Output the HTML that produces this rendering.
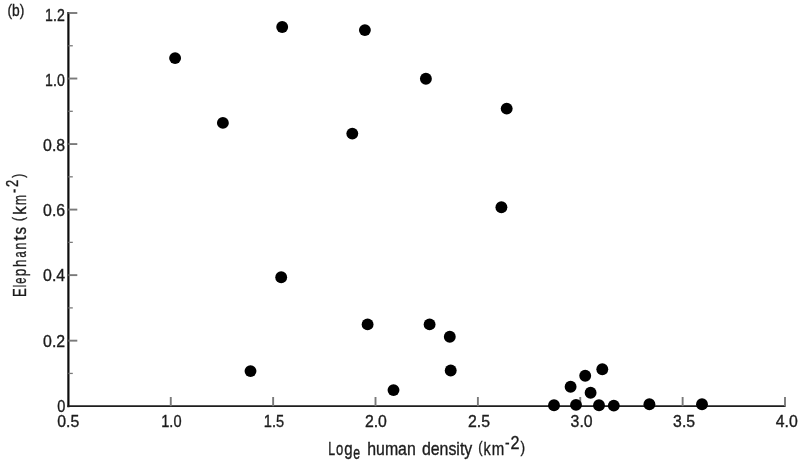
<!DOCTYPE html>
<html><head><meta charset="utf-8"><title>chart</title>
<style>
html,body{margin:0;padding:0;background:#fff;}
body{width:800px;height:465px;overflow:hidden;font-family:"Liberation Sans",sans-serif;}
svg{display:block;filter:blur(0.65px);}
text{font-family:"Liberation Sans",sans-serif;fill:#1c1c1c;stroke:#1c1c1c;stroke-width:0.35px;}
</style></head><body>
<svg width="800" height="465" viewBox="0 0 800 465">
<rect width="800" height="465" fill="#fff"/>

<g stroke="#0c0c0c" fill="none">
<path d="M68.4 12.0 V407.2" stroke-width="2.2"/>
<path d="M67.4 406.2 H785.6" stroke-width="1.8" stroke="#1e1e1e"/>
</g><g stroke="#7a7a7a" fill="none">
<path d="M68.4 373.43 H72.8" stroke-width="1.3"/>
<path d="M68.4 340.67 H77.3" stroke-width="1.9"/>
<path d="M68.4 307.90 H72.8" stroke-width="1.3"/>
<path d="M68.4 275.13 H77.3" stroke-width="1.9"/>
<path d="M68.4 242.37 H72.8" stroke-width="1.3"/>
<path d="M68.4 209.60 H77.3" stroke-width="1.9"/>
<path d="M68.4 176.83 H72.8" stroke-width="1.3"/>
<path d="M68.4 144.07 H77.3" stroke-width="1.9"/>
<path d="M68.4 111.30 H72.8" stroke-width="1.3"/>
<path d="M68.4 78.53 H77.3" stroke-width="1.9"/>
<path d="M68.4 45.77 H72.8" stroke-width="1.3"/>
<path d="M68.4 13.00 H77.3" stroke-width="1.9"/>
<path d="M170.77 406.2 V397.0" stroke-width="1.9"/>
<path d="M273.14 406.2 V397.0" stroke-width="1.9"/>
<path d="M375.51 406.2 V397.0" stroke-width="1.9"/>
<path d="M477.89 406.2 V397.0" stroke-width="1.9"/>
<path d="M580.26 406.2 V397.0" stroke-width="1.9"/>
<path d="M682.63 406.2 V397.0" stroke-width="1.9"/>
<path d="M785.00 406.2 V397.0" stroke-width="1.9"/>
</g>
<text transform="translate(57.20 412.10) scale(0.8571 1)" font-size="17.0">0</text>
<text transform="translate(43.10 346.60) scale(0.9345 1)" font-size="17.0">0.2</text>
<text transform="translate(43.10 281.35) scale(0.9345 1)" font-size="17.0">0.4</text>
<text transform="translate(43.10 216.20) scale(0.9345 1)" font-size="17.0">0.6</text>
<text transform="translate(43.10 151.40) scale(0.9345 1)" font-size="17.0">0.8</text>
<text transform="translate(45.10 86.20) scale(0.8330 1)" font-size="17.0">1.0</text>
<text transform="translate(45.10 21.00) scale(0.8330 1)" font-size="17.0">1.2</text>
<text transform="translate(57.20 427.40) scale(0.9713 1)" font-size="16.3">0.5</text>
<text transform="translate(161.25 427.40) scale(0.8962 1)" font-size="16.3">1.0</text>
<text transform="translate(263.85 427.40) scale(0.8962 1)" font-size="16.3">1.5</text>
<text transform="translate(364.90 427.40) scale(0.9713 1)" font-size="16.3">2.0</text>
<text transform="translate(468.00 427.40) scale(0.9713 1)" font-size="16.3">2.5</text>
<text transform="translate(570.60 427.40) scale(0.9713 1)" font-size="16.3">3.0</text>
<text transform="translate(673.10 427.40) scale(0.9713 1)" font-size="16.3">3.5</text>
<text transform="translate(775.70 427.40) scale(0.9713 1)" font-size="16.3">4.0</text>
<text transform="translate(7.40 16.10) scale(0.8125 1)" font-size="17.0">(b)</text>
<text transform="translate(328.25 454.70) scale(0.6850 1)" font-size="18.0">L</text>
<text transform="translate(336.00 454.70) scale(0.7250 1)" font-size="18.0">o</text>
<text transform="translate(344.25 454.70) scale(0.8350 1)" font-size="18.0">g</text>
<text transform="translate(353.25 458.60) scale(0.6850 1)" font-size="18.0">e</text>
<text transform="translate(367.25 454.70) scale(0.8810 1)" font-size="18.0">human</text>
<text transform="translate(421.90 454.70) scale(0.8834 1)" font-size="18.0">density</text>
<text transform="translate(478.25 452.60) scale(0.7838 1)" font-size="16.6">(</text>
<text transform="translate(483.50 454.70) scale(0.8011 1)" font-size="18.0">k</text>
<text transform="translate(491.75 454.70) scale(0.8333 1)" font-size="18.0">m</text>
<text transform="translate(504.90 449.10) scale(0.7667 1)" font-size="18.0">-</text>
<text transform="translate(510.50 448.80) scale(0.9091 1)" font-size="17.8">2</text>
<text transform="translate(520.50 452.60) scale(0.8288 1)" font-size="16.6">)</text>
<text transform="translate(25.60 296.90) rotate(-90) scale(0.7333 1)" font-size="18.0">E</text>
<text transform="translate(25.60 286.90) rotate(-90) scale(0.4750 1)" font-size="18.0">l</text>
<text transform="translate(25.60 283.75) rotate(-90) scale(0.6250 1)" font-size="18.0">e</text>
<text transform="translate(25.60 276.20) rotate(-90) scale(0.7600 1)" font-size="18.0">p</text>
<text transform="translate(25.60 267.00) rotate(-90) scale(0.7500 1)" font-size="18.0">h</text>
<text transform="translate(25.60 257.60) rotate(-90) scale(0.6169 1)" font-size="18.0">a</text>
<text transform="translate(25.60 249.50) rotate(-90) scale(0.6900 1)" font-size="18.0">n</text>
<text transform="translate(25.60 240.75) rotate(-90) scale(1.0500 1)" font-size="18.0">t</text>
<text transform="translate(25.60 234.50) rotate(-90) scale(0.8333 1)" font-size="18.0">s</text>
<text transform="translate(24.10 221.25) rotate(-90) scale(0.7838 1)" font-size="16.6">(</text>
<text transform="translate(25.60 215.00) rotate(-90) scale(0.9669 1)" font-size="18.0">k</text>
<text transform="translate(25.60 205.00) rotate(-90) scale(0.6667 1)" font-size="18.0">m</text>
<text transform="translate(19.50 193.00) rotate(-90) scale(0.7083 1)" font-size="18.0">-</text>
<text transform="translate(18.30 186.90) rotate(-90) scale(0.7566 1)" font-size="17.0">2</text>
<text transform="translate(24.10 177.75) rotate(-90) scale(0.7207 1)" font-size="16.6">)</text>
<g fill="#000">
<circle cx="175.1" cy="58.1" r="5.95"/>
<circle cx="282.2" cy="27.0" r="5.95"/>
<circle cx="364.9" cy="30.1" r="5.95"/>
<circle cx="222.9" cy="122.9" r="5.95"/>
<circle cx="352.3" cy="133.6" r="5.95"/>
<circle cx="425.9" cy="78.8" r="5.95"/>
<circle cx="506.7" cy="108.6" r="5.95"/>
<circle cx="501.4" cy="207.3" r="5.95"/>
<circle cx="281.2" cy="277.2" r="5.95"/>
<circle cx="367.6" cy="324.4" r="5.95"/>
<circle cx="429.6" cy="324.4" r="5.95"/>
<circle cx="449.8" cy="336.8" r="5.95"/>
<circle cx="250.5" cy="371.1" r="5.95"/>
<circle cx="450.7" cy="370.5" r="5.95"/>
<circle cx="393.5" cy="390.1" r="5.95"/>
<circle cx="602.3" cy="369.2" r="5.95"/>
<circle cx="585.2" cy="375.7" r="5.95"/>
<circle cx="570.6" cy="386.7" r="5.95"/>
<circle cx="590.6" cy="392.8" r="5.95"/>
<circle cx="554.0" cy="405.2" r="5.95"/>
<circle cx="576.0" cy="404.9" r="5.95"/>
<circle cx="599.0" cy="405.2" r="5.95"/>
<circle cx="613.8" cy="405.6" r="5.95"/>
<circle cx="649.4" cy="404.3" r="5.95"/>
<circle cx="702.0" cy="404.3" r="5.95"/>
</g>
</svg></body></html>
